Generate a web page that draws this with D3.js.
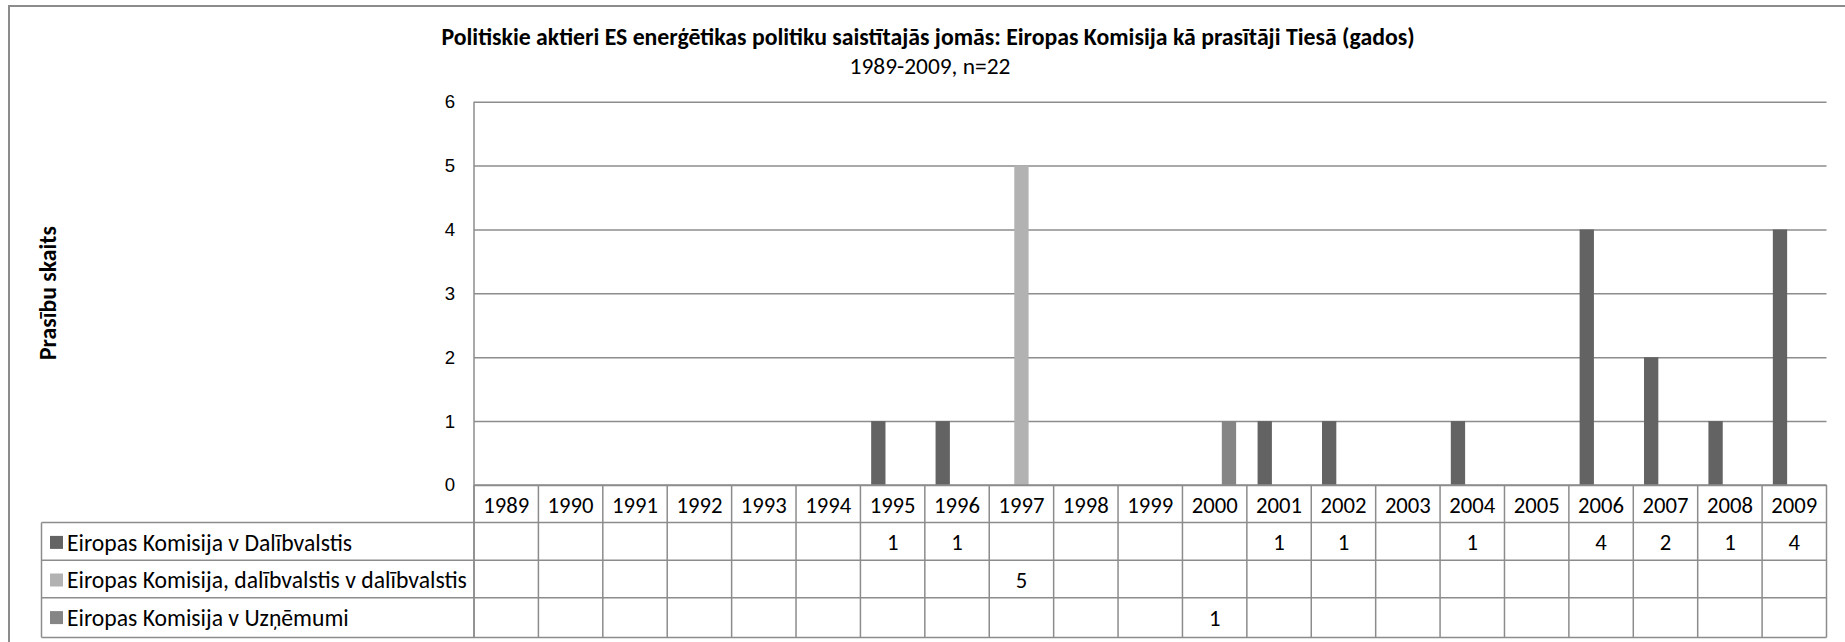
<!DOCTYPE html>
<html>
<head>
<meta charset="utf-8">
<script src="https://cdn.jsdelivr.net/npm/d3@7"></script>
<style>
  body { margin: 0; background: #fff; }
  svg { display: block; font-family: Carlito, Calibri, "Open Sans", sans-serif; }
</style>
</head>
<body>
<svg id="chart" width="1845" height="642"></svg>
<script>
// data
const years = ["1989", "1990", "1991", "1992", "1993", "1994", "1995", "1996", "1997", "1998", "1999",
  "2000", "2001", "2002", "2003", "2004", "2005", "2006", "2007", "2008", "2009"];
const seriesNames = [
  "Eiropas Komisija v Dalībvalstis",
  "Eiropas Komisija, dalībvalstis v dalībvalstis",
  "Eiropas Komisija v Uzņēmumi"
];
const komisijaVsDalibvalstis = [null, null, null, null, null, null, 1, 1, null, null, null,
  null, 1, 1, null, 1, null, 4, 2, 1, 4];
const komisijaDalibvalstisVsDalibvalstis = [null, null, null, null, null, null, null, null, 5, null, null,
  null, null, null, null, null, null, null, null, null, null];
const komisijaVsUznemumi = [null, null, null, null, null, null, null, null, null, null, null,
  1, null, null, null, null, null, null, null, null, null];
const yTicks = [0, 1, 2, 3, 4, 5, 6];
const seriesColors = ["#636363", "#b2b2b2", "#858585"];

const seriesValues = [komisijaVsDalibvalstis, komisijaDalibvalstisVsDalibvalstis, komisijaVsUznemumi];

const svg = d3.select("#chart");
const lineColor = "#8c8c8c";

// scale a text's font size so it takes the wanted width
function fitWidth(sel, target) {
  const w = sel.node().getComputedTextLength();
  const fs = parseFloat(sel.attr("font-size")) * target / w;
  sel.attr("font-size", fs);
  return fs;
}

// layout
const plotLeft = 474, plotRight = 1826.5, plotTop = 101.7, plotBottom = 485;
const tableLeft = 41.5, rowH = 37.6;
const tableBottom = plotBottom + rowH * 4 + 2;

const x = d3.scaleBand().domain(years).range([plotLeft, plotRight])
  .paddingInner(1 / 3).paddingOuter(1 / 6);
const xCol = d3.scaleBand().domain(years).range([plotLeft, plotRight]);
const xSeries = d3.scaleBand().domain(d3.range(seriesNames.length)).range([0, x.bandwidth()]);
const y = d3.scaleLinear().domain([0, 6]).range([plotBottom, plotTop]);

// outer frame
svg.append("rect")
  .attr("x", 9).attr("y", 6).attr("width", 1900).attr("height", 700)
  .attr("fill", "none").attr("stroke", lineColor).attr("stroke-width", 2);

// title
const title = svg.append("text")
  .attr("x", 928).attr("y", 37).attr("dy", "0.35em")
  .attr("text-anchor", "middle").attr("font-weight", "bold").attr("font-size", 18)
  .text("Politiskie aktieri ES enerģētikas politiku saistītajās jomās: Eiropas Komisija kā prasītāji Tiesā (gados)");
fitWidth(title, 974);
const subtitle = svg.append("text")
  .attr("x", 930).attr("y", 66).attr("dy", "0.35em")
  .attr("text-anchor", "middle").attr("font-size", 18)
  .text("1989-2009, n=22");
fitWidth(subtitle, 161);

// y axis title
const yTitle = svg.append("text")
  .attr("transform", "translate(48,293) rotate(-90)")
  .attr("dy", "0.35em")
  .attr("text-anchor", "middle").attr("font-weight", "bold").attr("font-size", 18)
  .text("Prasību skaits");
fitWidth(yTitle, 134);

// table font size from the width of a year label
const probe = svg.append("text").attr("font-size", 20).text("1989");
const numSize = fitWidth(probe, 46);
probe.remove();

// gridlines + tick labels
const yAxis = svg.append("g")
  .attr("transform", `translate(${plotLeft},0)`)
  .call(d3.axisLeft(y).tickValues(yTicks).tickFormat(d3.format("d"))
    .tickSizeInner(-(plotRight - plotLeft)).tickSizeOuter(0).tickPadding(19));
yAxis.select(".domain").remove();
yAxis.selectAll(".tick line").attr("stroke", lineColor).attr("stroke-width", 1.5);
yAxis.selectAll(".tick text").attr("font-size", numSize * 0.82).attr("fill", "#000")
  .attr("font-family", null);

// bars
seriesValues.forEach((vals, si) => {
  svg.append("g").selectAll("rect")
    .data(years.map((yr, i) => ({ yr, v: vals[i] })).filter(d => d.v != null))
    .join("rect")
    .attr("x", d => x(d.yr) + xSeries(si))
    .attr("width", xSeries.bandwidth())
    .attr("y", d => y(d.v))
    .attr("height", d => y(0) - y(d.v))
    .attr("fill", seriesColors[si]);
});

// data table
const table = svg.append("g");
const rowTop = i => plotBottom + i * rowH;

// vertical lines of year columns
table.selectAll("line.col")
  .data(years)
  .join("line")
  .attr("x1", d => xCol(d)).attr("x2", d => xCol(d))
  .attr("y1", rowTop(0)).attr("y2", tableBottom)
  .attr("stroke", lineColor).attr("stroke-width", 1.5);
// right edge, axis line, left edge of legend
table.append("line")
  .attr("x1", plotRight).attr("x2", plotRight).attr("y1", rowTop(0)).attr("y2", tableBottom)
  .attr("stroke", lineColor).attr("stroke-width", 1.5);
table.append("line")
  .attr("x1", plotLeft).attr("x2", plotLeft).attr("y1", plotTop).attr("y2", tableBottom)
  .attr("stroke", lineColor).attr("stroke-width", 1.5);
table.append("line")
  .attr("x1", tableLeft).attr("x2", tableLeft).attr("y1", rowTop(1)).attr("y2", tableBottom)
  .attr("stroke", lineColor).attr("stroke-width", 1.5);
// horizontal lines
table.append("line")
  .attr("x1", plotLeft).attr("x2", plotRight).attr("y1", rowTop(0)).attr("y2", rowTop(0))
  .attr("stroke", lineColor).attr("stroke-width", 1.5);
[1, 2, 3].forEach(r => {
  table.append("line")
    .attr("x1", tableLeft).attr("x2", plotRight).attr("y1", rowTop(r)).attr("y2", rowTop(r))
    .attr("stroke", lineColor).attr("stroke-width", 1.5);
});
table.append("line")
  .attr("x1", tableLeft).attr("x2", plotRight).attr("y1", tableBottom).attr("y2", tableBottom)
  .attr("stroke", lineColor).attr("stroke-width", 1.5);

// year header
table.selectAll("text.year")
  .data(years)
  .join("text")
  .attr("x", d => xCol(d) + xCol.bandwidth() / 2)
  .attr("y", rowTop(0) + rowH / 2 + 1).attr("dy", "0.35em")
  .attr("text-anchor", "middle").attr("font-size", numSize)
  .text(d => d);

// legend font size from the longest legend entry
const legendProbe = svg.append("text").attr("font-size", 20).text(seriesNames[1]);
const legendSize = fitWidth(legendProbe, 400);
legendProbe.remove();

// series rows
seriesNames.forEach((name, si) => {
  const cy = rowTop(si + 1) + rowH / 2 + 1;
  table.append("rect")
    .attr("x", 50).attr("y", cy - 6.5).attr("width", 13).attr("height", 13)
    .attr("fill", seriesColors[si]);
  table.append("text")
    .attr("x", 67).attr("y", cy).attr("dy", "0.35em")
    .attr("font-size", legendSize)
    .text(name);
  table.selectAll(null)
    .data(years.map((yr, i) => ({ yr, v: seriesValues[si][i] })).filter(d => d.v != null))
    .join("text")
    .attr("x", d => xCol(d.yr) + xCol.bandwidth() / 2)
    .attr("y", cy).attr("dy", "0.35em")
    .attr("text-anchor", "middle").attr("font-size", numSize)
    .text(d => d.v);
});
</script>
</body>
</html>
